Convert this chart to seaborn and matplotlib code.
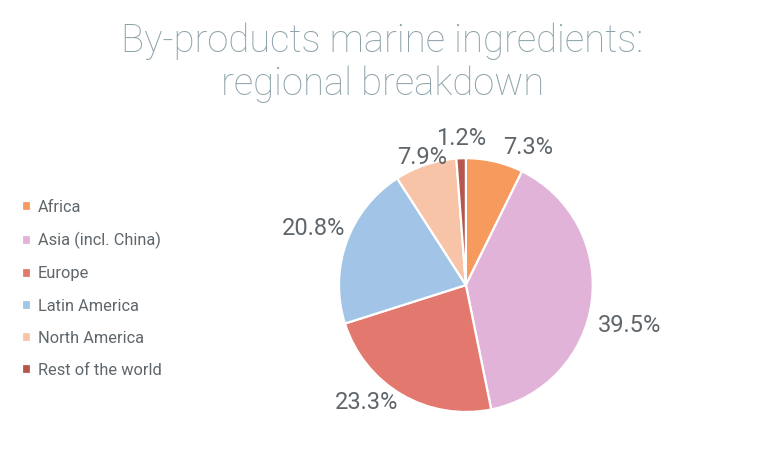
import numpy as np
import pandas as pd
import matplotlib
matplotlib.use("Agg")
import matplotlib.pyplot as plt
import seaborn as sns

regions = ["Africa", "Asia (incl. China)", "Europe", "Latin America",
           "North America", "Rest of the world"]
shares = [7.3, 39.5, 23.3, 20.8, 7.9, 1.2]
colors = ["#F79A5E", "#E1B3D8", "#E3786E", "#A2C4E6", "#F7C4A8", "#B5574E"]
title = "By-products marine ingredients:\nregional breakdown"

# label nudges (pixels) from the wedge rim, like Excel's "outside end"
label_offsets = [(33, 14), (38, -24), (-35, -8), (-33, 14), (-3, 7), (0, 20)]

df = pd.DataFrame({"region": regions, "share": shares})

sns.set_theme(style="white")
plt.rcParams["font.family"] = ["Roboto", "DejaVu Sans"]

fig = plt.figure(figsize=(7.65, 4.59), dpi=100)
ax = fig.add_axes([0.443, 0.1024, 0.332, 0.553])

pal = sns.color_palette(colors)
wedges, _ = ax.pie(df["share"], colors=pal, startangle=90, counterclock=False,
                   wedgeprops=dict(edgecolor="white", linewidth=1.6))
ax.set_xlim(-1, 1)
ax.set_ylim(-1, 1)
ax.set_aspect("equal")

for w, v, (dx, dy) in zip(wedges, df["share"], label_offsets):
    mid = np.deg2rad((w.theta1 + w.theta2) / 2)
    ax.annotate(f"{v:.1f}%", xy=(np.cos(mid), np.sin(mid)), xytext=(dx, dy),
                textcoords="offset pixels", ha="center", va="center",
                fontsize=17, color="#5F666B", annotation_clip=False)

fig.text(0.5, 1 - 22 / 459, title, ha="center", va="top", fontsize=27.5,
         color="#8DA3AA", fontweight="light", linespacing=1.22)

fig.legend(wedges, df["region"], loc="upper left", bbox_to_anchor=(0.01, 1 - 185 / 459),
           frameon=False, fontsize=11.8, handlelength=0.55, handleheight=0.55,
           handletextpad=0.4, labelspacing=1.05, labelcolor="#5F666B")

fig.savefig("out.png", dpi=100)
